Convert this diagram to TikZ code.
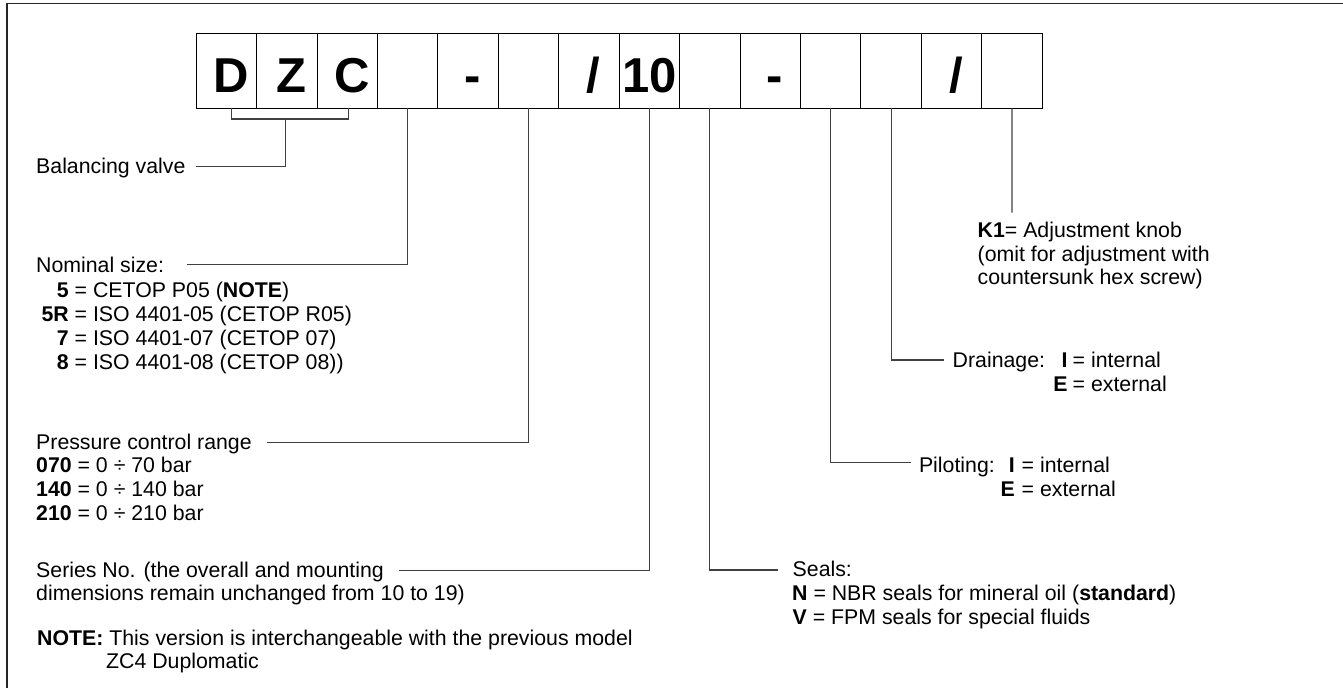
\documentclass[tikz,border=0pt]{standalone}
\usepackage{fontspec}
\setmainfont{Liberation Sans}
\begin{document}
\begin{tikzpicture}[x=1pt,y=-1pt,
  cell/.style={draw=black,line width=1pt,minimum width=60.43pt,minimum height=75pt,inner sep=0pt,outer sep=0pt},
  big/.style={font=\fontsize{49}{49}\selectfont\bfseries,inner sep=0pt,anchor=base},
  txt/.style={font=\fontsize{21.3}{24}\selectfont,inner sep=0pt,anchor=base west},
  code/.style={font=\fontsize{21.3}{24}\selectfont\bfseries,inner sep=0pt,anchor=base east},
  conn/.style={draw=black!75,line width=1.1pt},
  frame/.style={draw=black!85,line width=1.6pt}]
\useasboundingbox (0,0) rectangle (1343,688);
\draw[frame] (6.7,688) -- (6.7,3.3) -- (1343,3.3);
% code boxes
\foreach \i in {1,...,14}
  \node[cell] (b\i) at ({196.2+(\i-0.5)*60.43},70.8) {};
\node[big] (lD) at ([shift={(4.5,21.2)}]b1.center) {D};
\node[big] (lZ) at ([shift={(4.5,21.2)}]b2.center) {Z};
\node[big] (lC) at ([shift={(4.5,21.2)}]b3.center) {C};
\node[big] (lH1) at ([shift={(4.5,21.2)}]b5.center) {-};
\node[big] (lS1) at ([shift={(4.5,21.2)}]b7.center) {/};
\node[big] (l10) at ([shift={(0,21.2)}]b8.center) {10};
\node[big] (lH2) at ([shift={(4.5,21.2)}]b10.center) {-};
\node[big] (lS2) at ([shift={(4.5,21.2)}]b13.center) {/};
% connector end points
\coordinate (brm) at (285.5,119);
\coordinate (bvl) at (195.7,166.7);
\coordinate (nomL) at (187.3,264.3);
\coordinate (preL) at (267,442.3);
\coordinate (serL) at (398.7,570.7);
\coordinate (seaL) at (778,570);
\coordinate (pilL) at (910.7,462.3);
\coordinate (draL) at (943.9,360);
\coordinate (k1L) at (1012.005,212.7);
% connectors
\draw[conn] ([xshift=5.5pt]b1.south) -- ++(0,10.7) -| ([xshift=1.5pt]b3.south);
\draw[conn] (brm) |- (bvl);
\draw[conn] (b4.south) |- (nomL);
\draw[conn] (b6.south) |- (preL);
\draw[conn] (b8.south) |- (serL);
\draw[conn] (b9.south) |- (seaL);
\draw[conn] (b11.south) |- (pilL);
\draw[conn] (b12.south) |- (draL);
\draw[conn] (b14.south) -- (k1L);
% texts left
\node[txt] (bv) at (36,173) {Balancing valve};
\node[txt] (ns) at (36,272.5) {Nominal size:};
\node[code] (n1c) at (69,297) {5};
\node[txt] (n1) at (74.5,297) {= CETOP P05 (\textbf{NOTE})};
\node[code] (n2c) at (69,321) {5R};
\node[txt] (n2) at (74.5,321) {= ISO 4401-05 (CETOP R05)};
\node[code] (n3c) at (69,345) {7};
\node[txt] (n3) at (74.5,345) {= ISO 4401-07 (CETOP 07)};
\node[code] (n4c) at (69,369) {8};
\node[txt] (n4) at (74.5,369) {= ISO 4401-08 (CETOP 08))};
\node[txt] (pr) at (36,449) {Pressure control range};
\node[txt] (p1) at (36,472) {\textbf{070} = 0 ÷ 70 bar};
\node[txt] (p2) at (36,496) {\textbf{140} = 0 ÷ 140 bar};
\node[txt] (p3) at (36,520) {\textbf{210} = 0 ÷ 210 bar};
\node[txt] (s1) at (36,577) {Series No. (the overall and mounting};
\node[txt] (s2) at (36,600) {dimensions remain unchanged from 10 to 19)};
\node[txt] (nt1) at (37,645) {\textbf{NOTE:} This version is interchangeable with the previous model};
\node[txt] (nt2) at (106,668) {ZC4 Duplomatic};
% texts right
\node[txt] (k1a) at (977.5,237) {\textbf{K1}= Adjustment knob};
\node[txt] (k1b) at (977.5,261) {(omit for adjustment with};
\node[txt] (k1c) at (977.5,284.5) {countersunk hex screw)};
\node[txt] (dr) at (952.5,367) {Drainage:};
\node[code] (drIc) at (1067.7,367) {I};
\node[txt] (drI) at (1072.5,367) {= internal};
\node[code] (drEc) at (1067.7,391) {E};
\node[txt] (drE) at (1072.5,391) {= external};
\node[txt] (pi) at (918.8,472) {Piloting:};
\node[code] (piIc) at (1015,472) {I};
\node[txt] (piI) at (1021.5,472) {= internal};
\node[code] (piEc) at (1015,496) {E};
\node[txt] (piE) at (1021.5,496) {= external};
\node[txt] (se) at (792.5,576) {Seals:};
\node[txt] (se1) at (792,600) {\textbf{N} = NBR seals for mineral oil (\textbf{standard})};
\node[txt] (se2) at (792.5,624) {\textbf{V} = FPM seals for special fluids};
\end{tikzpicture}
\end{document}
